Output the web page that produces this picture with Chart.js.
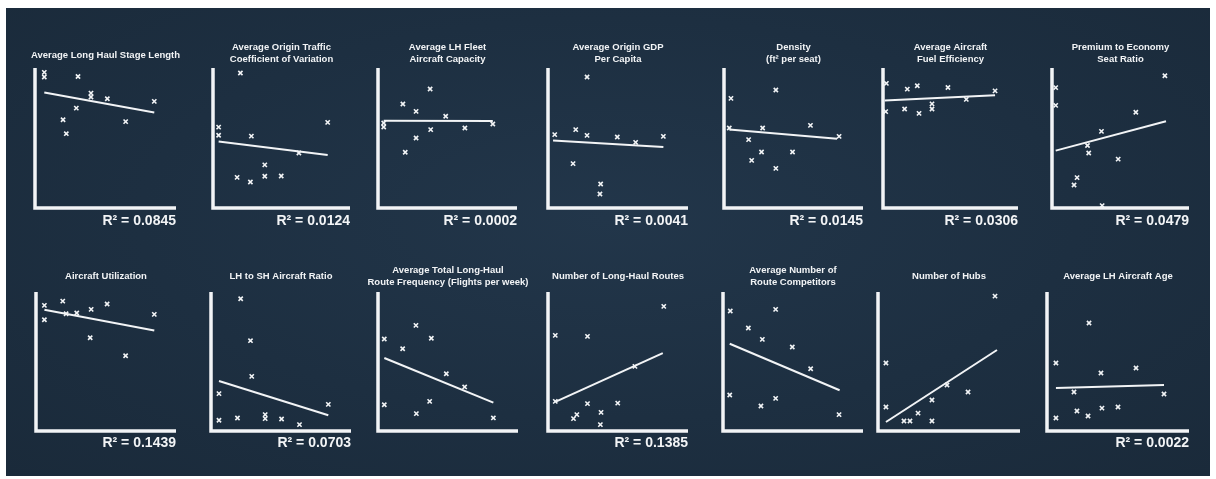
<!DOCTYPE html>
<html>
<head>
<meta charset="utf-8">
<script src="https://cdn.jsdelivr.net/npm/chart.js@4.4.1/dist/chart.umd.min.js"></script>
<style>
  html, body { margin: 0; padding: 0; background: #fff; }
  #board {
    position: absolute; left: 6px; top: 8px; width: 1204px; height: 468px;
    background: radial-gradient(ellipse at 50% 45%, #22364a 0%, #1d2f41 55%, #1a2a3a 100%);
    overflow: hidden;
  }
  .cell { position: absolute; }
</style>
</head>
<body>
<div id="board"></div>
<script>
// ── Dados (escala 0–100 em cada painel) ──────────────────────
const TITLES = [
  'Average Long Haul Stage Length',
  ['Average Origin Traffic', 'Coefficient of Variation'],
  ['Average LH Fleet', 'Aircraft Capacity'],
  ['Average Origin GDP', 'Per Capita'],
  ['Density', '(ft² per seat)'],
  ['Average Aircraft', 'Fuel Efficiency'],
  ['Premium to Economy', 'Seat Ratio'],
  'Aircraft Utilization',
  'LH to SH Aircraft Ratio',
  ['Average Total Long-Haul', 'Route Frequency (Flights per week)'],
  'Number of Long-Haul Routes',
  ['Average Number of', 'Route Competitors'],
  'Number of Hubs',
  'Average LH Aircraft Age',
];

const R2 = ['0.0845', '0.0124', '0.0002', '0.0041', '0.0145', '0.0306', '0.0479',
            '0.1439', '0.0703', null, '0.1385', null, null, '0.0022'];

const POINTS_X = [
  [6.6, 6.6, 30.5, 39.7, 39.7, 51.3, 29.3, 19.9, 22.2, 64.3, 84.6],
  [20.0, 4.1, 4.1, 28.0, 83.7, 62.7, 37.8, 17.6, 27.3, 37.8, 49.8],
  [37.5, 17.9, 27.4, 48.7, 4.1, 4.1, 82.6, 62.5, 37.9, 27.4, 19.6],
  [27.9, 4.8, 19.8, 27.9, 49.5, 62.6, 82.4, 17.9, 37.6, 37.1],
  [5.0, 37.3, 27.8, 62.2, 82.8, 17.7, 27.0, 49.3, 19.9, 37.3, 3.8],
  [2.5, 18.0, 25.4, 48.1, 83.0, 61.7, 36.3, 36.3, 2.0, 16.0, 26.7],
  [82.4, 2.7, 2.7, 61.2, 36.1, 25.9, 26.8, 48.3, 18.3, 16.1, 36.6],
  [6.0, 6.0, 19.1, 21.5, 29.1, 39.4, 50.8, 84.5, 38.7, 64.0],
  [21.2, 28.2, 29.1, 5.7, 83.8, 5.7, 18.9, 38.7, 38.7, 50.4, 63.2],
  [27.1, 4.5, 38.1, 17.6, 48.8, 61.9, 4.5, 36.9, 27.4, 82.4],
  [82.7, 5.2, 28.2, 62.1, 5.2, 28.2, 49.8, 37.9, 20.6, 18.2, 37.4],
  [5.2, 37.6, 18.1, 28.1, 49.5, 62.6, 4.8, 37.6, 27.1, 82.9],
  [82.4, 5.6, 48.6, 63.4, 5.6, 38.0, 18.3, 22.5, 28.2, 38.0],
  [29.6, 6.3, 62.7, 38.0, 82.4, 19.0, 6.3, 21.1, 28.9, 38.7, 50.0],
];

const POINTS_Y = [
  [96.9, 93.6, 94.0, 82.1, 79.3, 78.1, 71.4, 63.1, 53.1, 61.7, 76.2],
  [96.4, 57.8, 52.0, 51.3, 61.2, 39.3, 30.8, 21.9, 18.6, 22.7, 22.9],
  [85.0, 74.3, 69.0, 65.5, 60.7, 57.9, 60.0, 57.1, 56.0, 50.0, 39.8],
  [93.6, 52.4, 56.0, 51.9, 50.7, 46.9, 51.2, 31.7, 17.1, 10.0],
  [78.3, 84.3, 57.1, 59.0, 51.2, 48.8, 40.0, 40.0, 34.0, 28.3, 57.1],
  [89.0, 84.9, 87.3, 86.1, 83.7, 77.6, 74.4, 70.7, 68.8, 70.7, 67.6],
  [94.5, 86.0, 73.3, 68.4, 54.7, 44.6, 39.3, 34.9, 21.7, 16.4, 1.7],
  [90.4, 80.1, 93.5, 84.4, 84.9, 87.5, 91.4, 83.9, 67.1, 54.2],
  [95.2, 65.0, 39.3, 26.9, 19.2, 7.7, 9.4, 11.8, 8.9, 8.6, 4.6],
  [76.0, 66.2, 66.7, 59.2, 41.2, 31.7, 18.9, 21.3, 12.5, 9.4],
  [89.7, 68.8, 68.1, 46.5, 21.3, 19.7, 20.1, 13.4, 11.8, 8.9, 4.6],
  [86.3, 87.5, 74.1, 65.9, 60.4, 44.8, 25.9, 23.5, 18.0, 11.8],
  [97.1, 48.9, 33.1, 28.1, 17.3, 22.3, 7.2, 7.2, 12.9, 7.2],
  [77.7, 48.9, 45.3, 41.7, 26.6, 28.1, 9.4, 14.4, 10.8, 16.5, 17.3],
];

// linha de tendência: [início, fim]
const TREND_X = [
  [6.6, 84.6], [4.1, 83.7], [4.1, 82.6], [3.6, 82.4], [3.8, 81.3], [1.2, 83.0], [2.7, 83.2],
  [6.0, 84.5], [5.7, 83.8], [4.5, 82.4], [5.2, 82.0], [4.8, 83.3], [5.6, 83.8], [6.3, 82.4],
];
const TREND_Y = [
  [82.6, 68.3], [47.5, 37.8], [62.4, 62.2], [48.3, 43.6], [56.0, 49.5], [76.8, 80.5], [41.0, 61.9],
  [87.3, 72.4], [36.0, 11.3], [52.5, 20.4], [20.9, 56.1], [62.8, 29.3], [6.5, 58.3], [31.0, 33.1],
];

// ── Layout (posição dos eixos de cada painel, em px da página) ──
const AXIS_LEFT  = [35, 213, 378, 548, 724, 883, 1052, 36, 211, 378, 548, 723, 878, 1047];
const AXIS_RIGHT = [176, 350, 517, 688, 863, 1018, 1189, 176, 351, 518, 688, 863, 1020, 1189];
const ROW_TOP = [40, 264];
const SIDE_PAD = 20;
const INK = '#f2f4f6';
const FONT = "'Liberation Sans', Arial, sans-serif";

// desenha o "L" dos eixos na borda da área do gráfico
const axesPlugin = {
  id: 'axesL',
  beforeDatasetsDraw(chart) {
    const { ctx, chartArea: a } = chart;
    ctx.save();
    ctx.strokeStyle = INK;
    ctx.lineWidth = 3.5;
    ctx.lineJoin = 'miter';
    ctx.beginPath();
    ctx.moveTo(a.left, a.top);
    ctx.lineTo(a.left, a.bottom);
    ctx.lineTo(a.right, a.bottom);
    ctx.stroke();
    ctx.restore();
  },
};

// escala invisível que só reserva espaço lateral
const spacer = pos => ({
  type: 'linear', position: pos, display: true,
  ticks: { display: false }, grid: { display: false }, border: { display: false },
  afterFit: s => { s.width = SIDE_PAD; },
});

const board = document.getElementById('board');

TITLES.forEach((title, i) => {
  const row = i < 7 ? 0 : 1;
  const twoLines = Array.isArray(title);
  const left = AXIS_LEFT[i] - SIDE_PAD;
  const width = AXIS_RIGHT[i] - AXIS_LEFT[i] + SIDE_PAD * 2;

  const box = document.createElement('div');
  box.className = 'cell';
  box.style.left = (left - 6) + 'px';
  box.style.top = (ROW_TOP[row] - 8) + 'px';
  box.style.width = width + 'px';
  box.style.height = '194px';
  const canvas = document.createElement('canvas');
  box.appendChild(canvas);
  board.appendChild(box);

  let titlePad;
  if (row === 0) titlePad = twoLines ? { top: 1, bottom: 2.3 } : { top: 8.8, bottom: 6.9 };
  else           titlePad = twoLines ? { top: 0, bottom: 3.3 } : { top: 5.8, bottom: 9.9 };
  const subPad = row === 0 ? { top: 5, bottom: 4.2 } : { top: 4, bottom: 6.2 };

  new Chart(canvas, {
    type: 'scatter',
    data: {
      datasets: [
        {
          data: POINTS_X[i].map((x, k) => ({ x, y: POINTS_Y[i][k] })),
          pointStyle: 'crossRot', pointRadius: 3, borderWidth: 1.6,
          borderColor: INK, backgroundColor: INK,
        },
        {
          data: TREND_X[i].map((x, k) => ({ x, y: TREND_Y[i][k] })),
          showLine: true, pointRadius: 0, borderWidth: 2,
          borderColor: INK,
        },
      ],
    },
    options: {
      responsive: true, maintainAspectRatio: false, animation: false,
      clip: false,
      layout: { padding: 0 },
      plugins: {
        legend: { display: false },
        tooltip: { enabled: false },
        title: {
          display: true, text: title, color: INK,
          font: { family: FONT, size: 9.5, weight: 'bold', lineHeight: 1.3 },
          padding: titlePad,
        },
        subtitle: {
          display: true, position: 'bottom', align: 'end', fullSize: false,
          text: R2[i] ? 'R² = ' + R2[i] : '',
          color: INK,
          font: { family: FONT, size: 14, weight: 'bold', lineHeight: 1.2 },
          padding: subPad,
        },
      },
      scales: {
        x: { type: 'linear', min: 0, max: 100, display: false },
        y: { type: 'linear', min: 0, max: 100, position: 'left', display: false },
        padL: spacer('left'),
        padR: spacer('right'),
      },
    },
    plugins: [axesPlugin],
  });
});
</script>
</body>
</html>
